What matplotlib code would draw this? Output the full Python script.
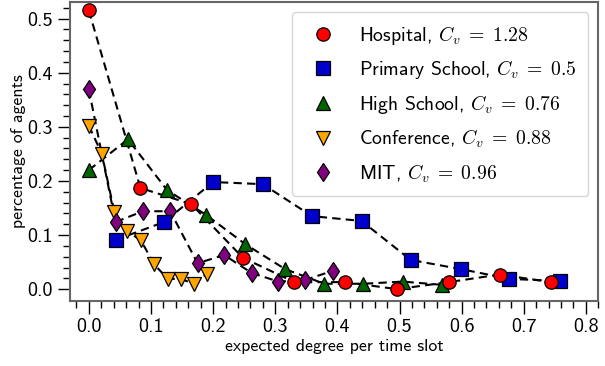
# Fraction of agents vs expected degree per time slot, five contact datasets

import matplotlib.pyplot as plt

plt.rcParams['font.family'] = 'cmss10'
plt.rcParams['mathtext.fontset'] = 'cm'
plt.rcParams['axes.unicode_minus'] = False

# ---- data ----
hospital_x = [0.0, 0.083, 0.165, 0.248, 0.331, 0.413, 0.496, 0.579, 0.661, 0.744]
hospital_y = [0.515, 0.187, 0.157, 0.058, 0.013, 0.013, 0.0, 0.013, 0.027, 0.013]

primary_x = [0.043, 0.121, 0.200, 0.280, 0.359, 0.439, 0.518, 0.599, 0.677, 0.758]
primary_y = [0.091, 0.124, 0.198, 0.194, 0.135, 0.126, 0.054, 0.037, 0.019, 0.015]

high_x = [0.0, 0.063, 0.126, 0.189, 0.252, 0.316, 0.379, 0.442, 0.505, 0.568]
high_y = [0.220, 0.277, 0.183, 0.137, 0.083, 0.037, 0.010, 0.010, 0.014, 0.008]

conf_x = [0.0, 0.021, 0.041, 0.062, 0.084, 0.105, 0.127, 0.148, 0.169, 0.190]
conf_y = [0.302, 0.250, 0.143, 0.107, 0.090, 0.046, 0.019, 0.019, 0.010, 0.028]

mit_x = [0.0, 0.043, 0.087, 0.131, 0.175, 0.218, 0.262, 0.305, 0.348, 0.393]
mit_y = [0.369, 0.124, 0.144, 0.144, 0.048, 0.063, 0.030, 0.014, 0.017, 0.034]

labels = [r'Hospital, $C_v\;=\;1.28$', r'Primary School, $C_v\;=\;0.5$',
          r'High School, $C_v\;=\;0.76$', r'Conference, $C_v\;=\;0.88$',
          r'MIT, $C_v\;=\;0.96$']

series = [
    (hospital_x, hospital_y, 'o', 'red', 6),
    (primary_x, primary_y, 's', '#0000cc', 4),
    (high_x, high_y, '^', 'darkgreen', 5),
    (conf_x, conf_y, 'v', 'orange', 3),
    (mit_x, mit_y, 'd', 'purple', 3),
]

fig, ax = plt.subplots(figsize=(6.05, 3.66), dpi=100)

for (x, y, m, c, z), lab in zip(series, labels):
    ax.plot(x, y, '--', color='k', lw=1.5, dashes=(4, 2.5), zorder=2)
    ax.plot(x, y, ls='none', marker=m, ms=9.6, mfc=c, mec='k', mew=0.9,
            label=lab, zorder=z)

ax.set_xlim(-0.03, 0.811)
ax.set_ylim(-0.0216, 0.531)
ax.set_xticks([0.0, 0.1, 0.2, 0.3, 0.4, 0.5, 0.6, 0.7, 0.8])
ax.set_yticks([0.0, 0.1, 0.2, 0.3, 0.4, 0.5])
ax.set_xticks([i * 0.02 - 0.02 for i in range(43)], minor=True)
ax.set_yticks([i * 0.02 for i in range(27)], minor=True)
ax.tick_params(which='major', length=9, width=1, labelsize=14.5, color='k')
ax.tick_params(which='minor', length=5, width=1, color='k')

for s in ax.spines.values():
    s.set_color('#666666')
    s.set_linewidth(1.5)

ax.set_xlabel('expected degree per time slot', fontsize=12.8, labelpad=2)
ax.set_ylabel('percentage of agents', fontsize=12.8, labelpad=1)

ax.legend(loc='upper right', numpoints=1, fontsize=14.2, handletextpad=0.8,
          labelspacing=0.6, borderpad=0.6)

fig.subplots_adjust(left=0.116, right=0.989, top=0.995, bottom=0.178)
fig.savefig('out.png', dpi=100)
